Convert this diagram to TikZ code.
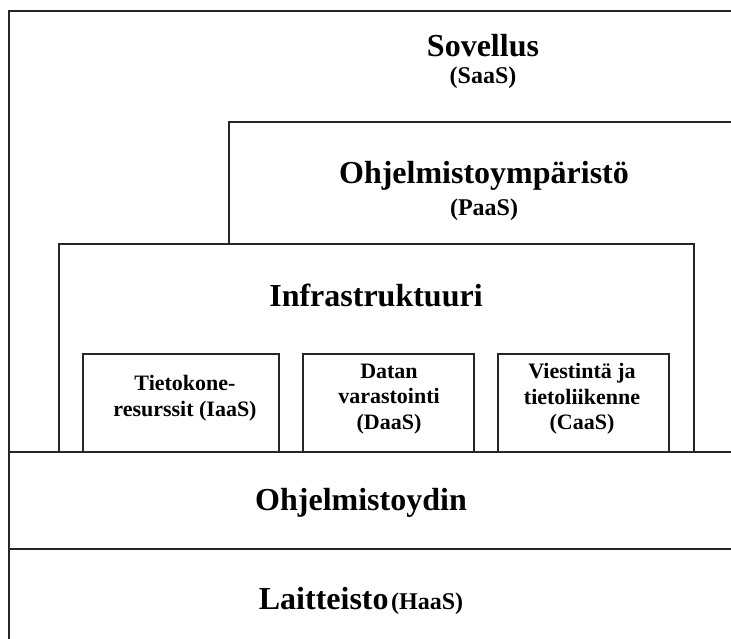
\documentclass[tikz,border=0pt]{standalone}
\usepackage{fontspec}
\setmainfont{Liberation Serif}
\begin{document}
\begin{tikzpicture}[x=1pt,y=-1pt,
  box/.style={draw=black!85, line width=1.7pt, fill=white, inner sep=0pt, anchor=north west},
  big/.style={font=\fontsize{32}{36}\selectfont\bfseries, anchor=base},
  mid/.style={font=\fontsize{24}{28}\selectfont\bfseries},
  small/.style={font=\fontsize{22}{25.5}\selectfont\bfseries, align=center},
]
\useasboundingbox (0,0) rectangle (731,638);
\fill[white] (0,0) rectangle (731,638);
\begin{scope}
\clip (0,0) rectangle (731,638);
\node[box, minimum width=760pt, minimum height=700pt] (outer) at (8,10) {};
\node[box, minimum width=600pt, minimum height=330pt] (paas) at (228,121) {};
\node[box, minimum width=635pt, minimum height=208pt] (infra) at (58,243) {};
\node[box, minimum width=196pt, minimum height=98pt] (iaas) at (82,353) {};
\node[box, minimum width=171pt, minimum height=98pt] (daas) at (302,353) {};
\node[box, minimum width=171pt, minimum height=98pt] (caas) at (497,353) {};
\node[box, minimum width=760pt, minimum height=97pt] (core) at (8,451) {};
\node[box, minimum width=760pt, minimum height=100pt] (hw) at (8,548) {};
\end{scope}
\node[big] (t1) at (483,56) {Sovellus};
\node[mid] (t1b) at (483,78) {(SaaS)};
\node[big] (t2) at (484,183) {Ohjelmistoympäristö};
\node[mid] (t2b) at (484,210) {(PaaS)};
\node[big] (t3) at (376,306) {Infrastruktuuri};
\node[small] (t4) at (185,398) {Tietokone-\\resurssit (IaaS)};
\node[small] (t5) at (389,399) {Datan\\varastointi\\(DaaS)};
\node[small] (t6) at (582,399) {Viestintä ja\\tietoliikenne\\(CaaS)};
\node[big] (t7) at (361,510) {Ohjelmistoydin};
\node[anchor=base] (t8) at (361,609) {{\fontsize{32}{36}\selectfont\bfseries Laitteisto} {\fontsize{24}{28}\selectfont\bfseries (HaaS)}};
\end{tikzpicture}
\end{document}
